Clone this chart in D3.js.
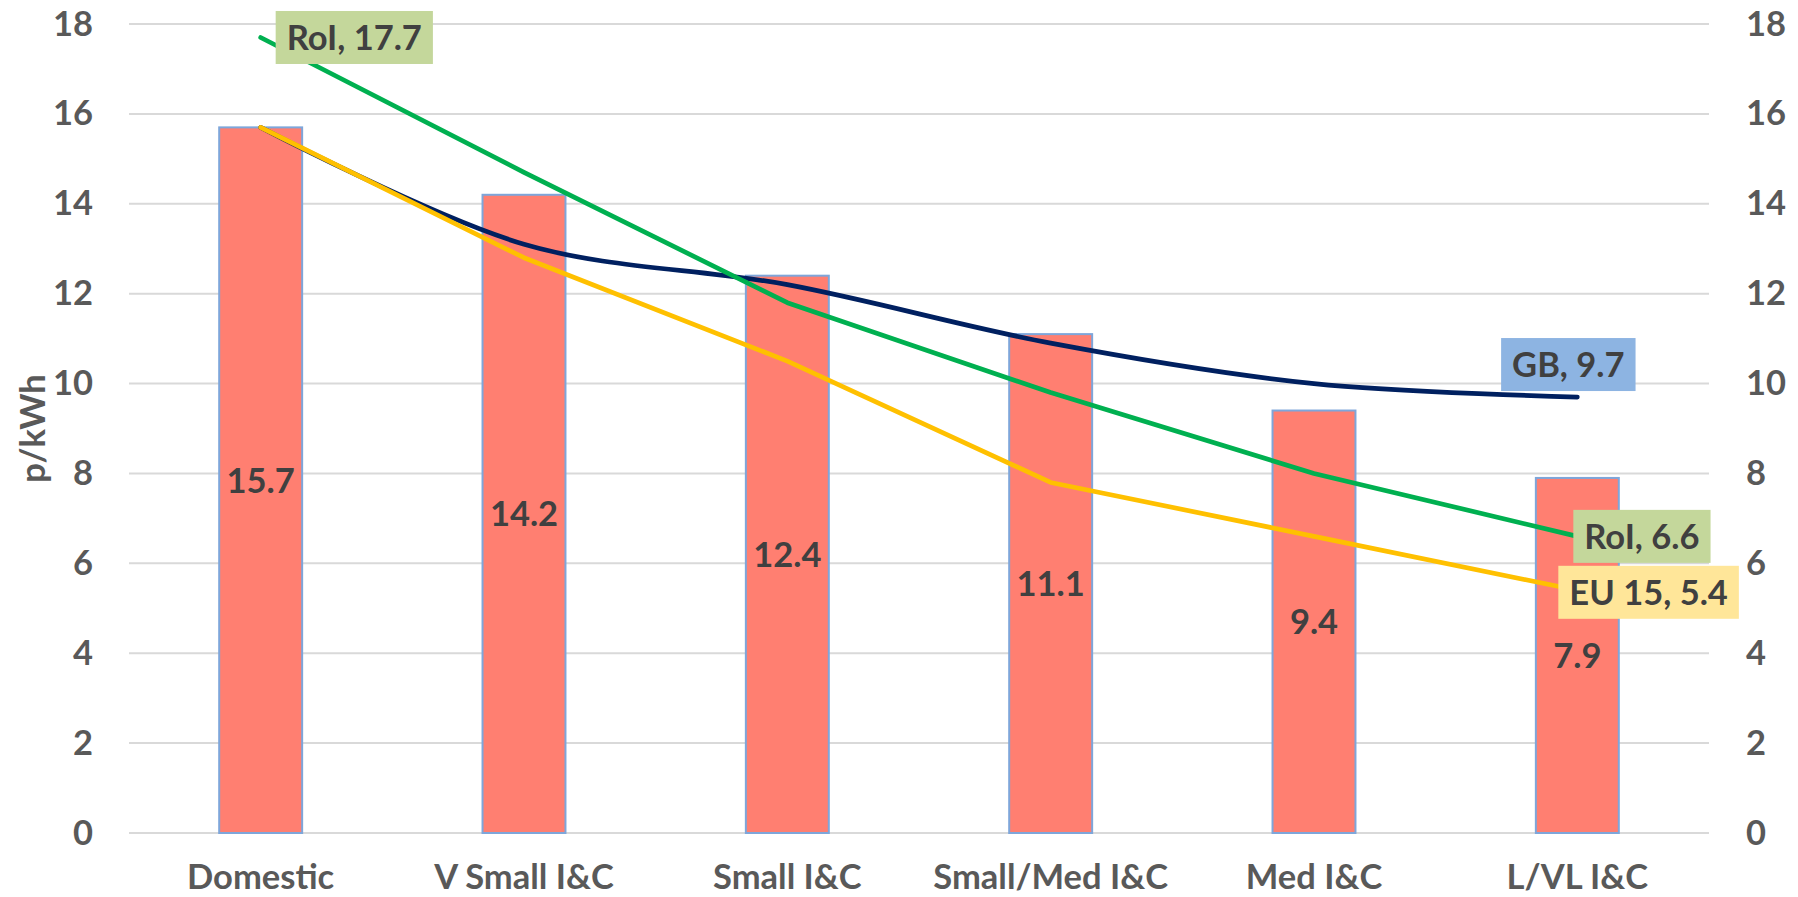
<!DOCTYPE html>
<html>
<head>
<meta charset="utf-8">
<script src="https://cdn.jsdelivr.net/npm/d3@7"></script>
<style>
  html, body { margin: 0; padding: 0; background: #fff; }
  svg { display: block; }
  text { font-family: Lato, "Open Sans", sans-serif; font-weight: bold; }
</style>
</head>
<body>
<svg id="chart" width="1798" height="897"></svg>
<script>
const categories = ["Domestic", "V Small I&C", "Small I&C", "Small/Med I&C", "Med I&C", "L/VL I&C"];
const barValues = [15.7, 14.2, 12.4, 11.1, 9.4, 7.9];
const gbValues  = [15.7, 13.1, 12.2, 10.9, 10.0, 9.7];
const roiValues = [17.7, 14.7, 11.8, 9.8, 8.0, 6.6];
const eu15Values = [15.7, 12.8, 10.5, 7.8, 6.6, 5.4];
const yTicks = [0, 2, 4, 6, 8, 10, 12, 14, 16, 18];
const yTitle = "p/kWh";

(function () {
const svg = d3.select("#chart");
const pLeft = 129, pRight = 1709, pTop = 24, pBottom = 833;
const FS = 34.5;

const x = d3.scaleBand().domain(categories).range([pLeft, pRight]).paddingInner(0.685).paddingOuter(0.3425);
const y = d3.scaleLinear().domain([0, 18]).range([pBottom, pTop]);
const cx = c => x(c) + x.bandwidth() / 2;

// gridlines
svg.append("g").selectAll("line").data(yTicks).join("line")
  .attr("x1", pLeft).attr("x2", pRight)
  .attr("y1", d => y(d)).attr("y2", d => y(d))
  .attr("stroke", "#D9D9D9").attr("stroke-width", 2);

// left axis
const yl = d3.axisLeft(y).tickValues(yTicks).tickSize(0).tickPadding(36);
const gl = svg.append("g").attr("transform", `translate(${pLeft},0)`).call(yl);
gl.select(".domain").remove();
gl.selectAll("text").attr("font-size", FS).attr("fill", "#595959")
  .attr("font-family", "Lato, sans-serif").attr("font-weight", "bold");

// right axis
const yr = d3.axisRight(y).tickValues(yTicks).tickSize(0).tickPadding(37);
const gr = svg.append("g").attr("transform", `translate(${pRight},0)`).call(yr);
gr.select(".domain").remove();
gr.selectAll("text").attr("font-size", FS).attr("fill", "#595959")
  .attr("font-family", "Lato, sans-serif").attr("font-weight", "bold");

// x axis labels
const xa = d3.axisBottom(x).tickSize(0).tickPadding(0);
const gx = svg.append("g").attr("transform", `translate(0,${pBottom})`).call(xa);
gx.select(".domain").remove();
gx.selectAll("text").attr("font-size", FS).attr("fill", "#595959")
  .attr("font-family", "Lato, sans-serif").attr("font-weight", "bold")
  .attr("dy", null).attr("y", 56);

// y title
svg.append("text")
  .attr("transform", `translate(45,${(pTop + pBottom) / 2}) rotate(-90)`)
  .attr("text-anchor", "middle").attr("font-size", FS).attr("fill", "#595959")
  .text(yTitle);

// bars
svg.append("g").selectAll("rect").data(barValues).join("rect")
  .attr("x", (d, i) => x(categories[i]))
  .attr("width", x.bandwidth())
  .attr("y", d => y(d))
  .attr("height", d => y(0) - y(d))
  .attr("fill", "#FF7F71")
  .attr("stroke", "#7EA6DA").attr("stroke-width", 2);

// bar labels
svg.append("g").selectAll("text").data(barValues).join("text")
  .attr("x", (d, i) => cx(categories[i]))
  .attr("y", d => (y(d) + y(0)) / 2)
  .attr("dy", "0.36em")
  .attr("text-anchor", "middle").attr("font-size", FS).attr("fill", "#404040")
  .text(d => d.toFixed(1));

// lines
const straight = d3.line().x((d, i) => cx(categories[i])).y(d => y(d));
const smooth = d3.line().x((d, i) => cx(categories[i])).y(d => y(d)).curve(d3.curveCatmullRom.alpha(0.5));
const lineSpecs = [
  { vals: gbValues, color: "#002060", gen: smooth },
  { vals: roiValues, color: "#00B050", gen: straight },
  { vals: eu15Values, color: "#FFC000", gen: straight }
];
lineSpecs.forEach(s => {
  svg.append("path").attr("d", s.gen(s.vals))
    .attr("fill", "none").attr("stroke", s.color).attr("stroke-width", 4.7)
    .attr("stroke-linecap", "round").attr("stroke-linejoin", "round");
});

// series labels
function seriesLabel(text, i, val, fill, place) {
  const px = cx(categories[i]), py = y(val);
  const g = svg.append("g");
  const rect = g.append("rect").attr("fill", fill);
  const t = g.append("text").attr("font-size", FS).attr("fill", "#404040").text(text);
  const bb = t.node().getBBox();
  const padX = 11, h = 53;
  const w = bb.width + 2 * padX;
  let bx, by;
  if (place.mode === "right") { bx = px + place.dx; by = py + place.dy - h / 2; }
  else { bx = px + place.dx - w / 2; by = py + place.dy - h; }
  rect.attr("x", bx).attr("y", by).attr("width", w).attr("height", h);
  t.attr("x", bx + w / 2).attr("y", by + h / 2).attr("dy", "0.36em").attr("text-anchor", "middle");
}
seriesLabel("RoI, 17.7", 0, roiValues[0], "#C4D79B", { mode: "right", dx: 15, dy: 0 });
seriesLabel("GB, 9.7", 5, gbValues[5], "#8DB4E2", { mode: "above", dx: -9, dy: -6 });
seriesLabel("RoI, 6.6", 5, roiValues[5], "#C4D79B", { mode: "right", dx: -4, dy: 0 });
seriesLabel("EU 15, 5.4", 5, eu15Values[5], "#FFE699", { mode: "right", dx: -19, dy: 2 });
})();
</script>
</body>
</html>
